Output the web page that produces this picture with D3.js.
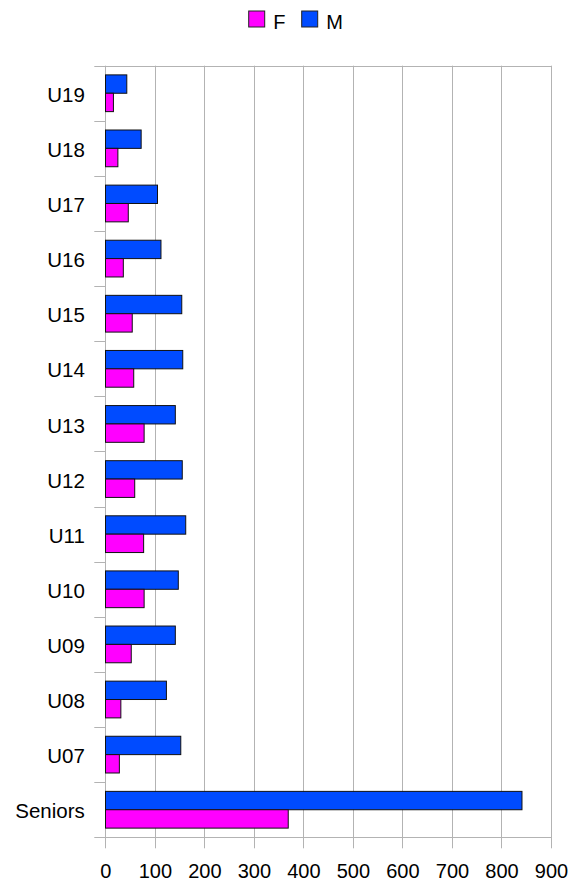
<!DOCTYPE html>
<html>
<head>
<meta charset="utf-8">
<script src="https://cdn.jsdelivr.net/npm/d3@7"></script>
<style>
  body { margin: 0; background: #fff; }
  svg { display: block; font-family: "Liberation Sans", Arial, sans-serif; }
</style>
</head>
<body>
<svg id="chart" width="570" height="882"></svg>
<script>
const categories = ['U19', 'U18', 'U17', 'U16', 'U15', 'U14', 'U13', 'U12', 'U11', 'U10', 'U09', 'U08', 'U07', 'Seniors'];
const valuesF = [16, 25, 46, 36, 54, 57, 78, 59, 77, 78, 52, 31, 28, 369];
const valuesM = [43, 72, 105, 112, 154, 156, 141, 155, 162, 147, 141, 123, 152, 841];
const seriesNames = ['F', 'M'];
const xTicks = [0, 100, 200, 300, 400, 500, 600, 700, 800, 900];

const colors = { F: '#ff00ff', M: '#004bff' };
const gridColor = '#b3b3b3';

const svg = d3.select('#chart');
const plotLeft = 105.3, plotRight = 551, plotTop = 65.7, plotBottom = 837.3;

const x = d3.scaleLinear().domain([0, 900]).range([plotLeft, plotRight]);
const y = d3.scaleBand().domain(categories).range([plotTop, plotBottom]);
// M sits on top, F below, inside each category band
const sub = d3.scaleBand().domain(['M', 'F']).range([0, y.bandwidth()]).paddingOuter(0.5);

const rows = categories.map((c, i) => ({ cat: c, F: valuesF[i], M: valuesM[i] }));

// vertical grid lines
svg.append('g')
  .selectAll('line')
  .data(xTicks)
  .join('line')
  .attr('x1', d => Math.round(x(d)) + 0.5).attr('x2', d => Math.round(x(d)) + 0.5)
  .attr('y1', plotTop).attr('y2', plotBottom + 11)
  .attr('stroke', gridColor);

// top / bottom frame lines and category boundary ticks
const bounds = categories.map(c => y(c)).concat([plotBottom]);
svg.append('g')
  .selectAll('line')
  .data(bounds)
  .join('line')
  .attr('x1', plotLeft - 11)
  .attr('x2', (d, i) => (i === 0 || i === bounds.length - 1) ? plotRight : plotLeft)
  .attr('y1', d => Math.round(d) + 0.5).attr('y2', d => Math.round(d) + 0.5)
  .attr('stroke', gridColor);

// bars
const groups = svg.append('g')
  .selectAll('g')
  .data(rows)
  .join('g')
  .attr('transform', d => `translate(0,${y(d.cat)})`);

groups.selectAll('rect')
  .data(d => ['M', 'F'].map(k => ({ key: k, value: d[k] })))
  .join('rect')
  .attr('x', Math.round(x(0)) + 0.5)
  .attr('y', d => sub(d.key))
  .attr('width', d => x(d.value) - x(0))
  .attr('height', sub.bandwidth())
  .attr('fill', d => colors[d.key])
  .attr('stroke', '#111')
  .attr('stroke-width', 1);

// x axis labels
const xAxis = svg.append('g')
  .attr('transform', `translate(0,${plotBottom})`)
  .call(d3.axisBottom(x).tickValues(xTicks).tickSize(0).tickPadding(27).tickFormat(d3.format('d')));
xAxis.select('.domain').remove();
xAxis.selectAll('text').attr('font-size', 20).attr('font-family', 'Liberation Sans, Arial, sans-serif').attr('fill', '#000');

// category labels
const yAxis = svg.append('g')
  .attr('transform', `translate(${plotLeft},0)`)
  .call(d3.axisLeft(y).tickSize(0).tickPadding(20.5));
yAxis.select('.domain').remove();
yAxis.selectAll('text')
  .attr('font-size', 20.5)
  .attr('font-family', 'Liberation Sans, Arial, sans-serif')
  .attr('fill', '#000')
  .attr('transform', 'translate(0,2)');

// legend
const legendX = d3.scalePoint().domain(seriesNames).range([248.7, 301.7]);
const legend = svg.append('g')
  .selectAll('g')
  .data(seriesNames)
  .join('g')
  .attr('transform', d => `translate(${legendX(d)},11)`);
legend.append('rect')
  .attr('width', 16).attr('height', 16)
  .attr('fill', d => colors[d])
  .attr('stroke', '#222');
legend.append('text')
  .attr('x', 24.5).attr('y', 18.3)
  .attr('font-size', 20)
  .text(d => d);
</script>
</body>
</html>
